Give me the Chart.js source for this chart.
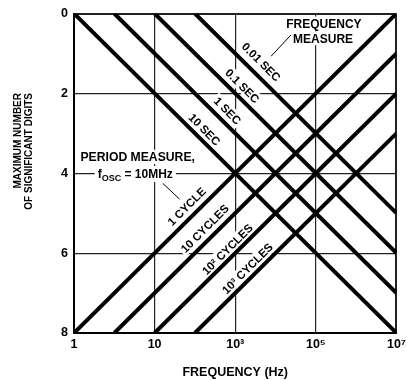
<!DOCTYPE html>
<html>
<head>
<meta charset="utf-8">
<script src="https://cdn.jsdelivr.net/npm/chart.js@4.4.1/dist/chart.umd.min.js"></script>
<style>
  body { margin: 0; background: #fff; }
  canvas { display: block; }
</style>
</head>
<body>
<canvas id="digitsChart" width="410" height="380"></canvas>
<script>
// --- Datos del gráfico ---
const FONT = "'Liberation Sans', Arial, sans-serif";
const F_MAX = 1e7;

// Medida de frecuencia: recta que sale de 0 dígitos y llega a 10^7 Hz
const freqLineLabels = ['10 SEC', '1 SEC', '0.1 SEC', '0.01 SEC'];
const freqLineStart = [0.1, 1, 10, 100];   // Hz donde vale 0 dígitos
const freqLineEnd = [8, 7, 6, 5];          // dígitos en 10^7 Hz

// Medida de periodo: recta que sale de 8 dígitos y llega a 10^7 Hz
const periodLineLabels = ['1 CYCLE', '10 CYCLES', '10² CYCLES', '10³ CYCLES'];
const periodLineStart = [0.1, 1, 10, 100]; // Hz donde vale 8 dígitos
const periodLineEnd = [0, 1, 2, 3];        // dígitos en 10^7 Hz

const xTickValues = [0.1, 10, 1e3, 1e5, 1e7];
const xTickLabels = ['1', '10', '10³', '10⁵', '10⁷'];
const yTickValues = [0, 2, 4, 6, 8];

// --- Posición de las etiquetas (log10 f, dígitos) ---
const lineLabelSpots = [
    { text: '0.01 SEC', lf: 3.65, d: 1.21, rot: 1 },
    { text: '0.1 SEC', lf: 3.18, d: 1.81, rot: 1 },
    { text: '1 SEC', lf: 2.81, d: 2.43, rot: 1 },
    { text: '10 SEC', lf: 2.24, d: 2.9, rot: 1 },
    { text: '1 CYCLE', lf: 1.79, d: 4.83, rot: -1 },
    { text: '10 CYCLES', lf: 2.24, d: 5.38, rot: -1 },
    { text: '10² CYCLES', lf: 2.8, d: 5.9, rot: -1 },
    { text: '10³ CYCLES', lf: 3.3, d: 6.38, rot: -1 }
];

// 1. Construir datasets
function buildDatasets() {
    const sets = [];
    freqLineLabels.forEach((label, i) => {
        sets.push({
            label: label,
            data: [{ x: freqLineStart[i], y: 0 }, { x: F_MAX, y: freqLineEnd[i] }]
        });
    });
    periodLineLabels.forEach((label, i) => {
        sets.push({
            label: label,
            data: [{ x: periodLineStart[i], y: 8 }, { x: F_MAX, y: periodLineEnd[i] }]
        });
    });
    return sets.map(s => Object.assign(s, {
        borderColor: '#000',
        borderWidth: 4,
        pointRadius: 0,
        fill: false,
        tension: 0
    }));
}

// 2. Texto con fondo blanco (tapa la rejilla)
function boxText(ctx, text, cx, cy, rot, size) {
    ctx.save();
    ctx.translate(cx, cy);
    ctx.rotate(rot * Math.PI / 4);
    ctx.font = 'bold ' + size + 'px ' + FONT;
    const w = ctx.measureText(text).width;
    ctx.fillStyle = '#fff';
    ctx.fillRect(-w / 2 - 2, -size / 2 - 1, w + 4, size + 2);
    ctx.fillStyle = '#000';
    ctx.textAlign = 'center';
    ctx.textBaseline = 'middle';
    ctx.fillText(text, 0, 1);
    ctx.restore();
}

function leader(ctx, x1, y1, x2, y2) {
    ctx.save();
    ctx.strokeStyle = '#000';
    ctx.lineWidth = 1;
    ctx.beginPath();
    ctx.moveTo(x1, y1);
    ctx.lineTo(x2, y2);
    ctx.stroke();
    ctx.restore();
}

const labelPlugin = {
    id: 'etiquetas',
    beforeDatasetsDraw(chart) {
        const { ctx, scales: { x, y } } = chart;
        const px = lf => x.getPixelForValue(Math.pow(10, lf));
        const py = d => y.getPixelForValue(d);

        lineLabelSpots.forEach(s => boxText(ctx, s.text, px(s.lf), py(s.d), s.rot, 11.5));

        // Medida de frecuencia
        boxText(ctx, 'FREQUENCY', px(5.2), py(0.25), 0, 12);
        boxText(ctx, 'MEASURE', px(5.18), py(0.62), 0, 12);
        leader(ctx, px(4.38), py(0.54), px(3.89), py(1.07));

        // Medida de periodo
        boxText(ctx, 'PERIOD MEASURE,', px(0.58), py(3.59), 0, 12.2);
        const cx = px(0.52), cy = py(4.02);
        ctx.save();
        const big = 'bold 12px ' + FONT, small = 'bold 9px ' + FONT;
        ctx.font = big;
        const wf = ctx.measureText('f').width;
        const wRest = ctx.measureText(' = 10MHz').width;
        ctx.font = small;
        const wSub = ctx.measureText('OSC').width;
        const total = wf + wSub + wRest;
        const x0 = cx - total / 2;
        ctx.fillStyle = '#fff';
        ctx.fillRect(x0 - 3, cy - 8, total + 6, 16);
        ctx.fillStyle = '#000';
        ctx.textBaseline = 'alphabetic';
        ctx.font = big;
        ctx.fillText('f', x0, cy + 4);
        ctx.font = small;
        ctx.fillText('OSC', x0 + wf, cy + 7);
        ctx.font = big;
        ctx.fillText(' = 10MHz', x0 + wf + wSub, cy + 4);
        ctx.restore();
        leader(ctx, px(1.2), py(4.25), px(1.62), py(4.65));
    },
    afterDraw(chart) {
        // Título del eje Y, alineado por arriba como en el original
        const { ctx } = chart;
        ctx.save();
        ctx.fillStyle = '#000';
        ctx.font = 'bold 10px ' + FONT;
        ctx.textAlign = 'right';
        ctx.textBaseline = 'middle';
        [['MAXIMUM NUMBER', 18], ['OF SIGNIFICANT DIGITS', 29]].forEach(([t, xPos]) => {
            ctx.save();
            ctx.translate(xPos, 93);
            ctx.rotate(-Math.PI / 2);
            ctx.fillText(t, 0, 0);
            ctx.restore();
        });
        ctx.restore();
    }
};

// 3. Renderizar gráfico
function renderDigitsChart() {
    const ctx = document.getElementById('digitsChart').getContext('2d');
    const edgeWidth = c => (c.index === 0 || c.index === 4) ? 2 : 1.2;
    new Chart(ctx, {
        type: 'line',
        data: { datasets: buildDatasets() },
        options: {
            responsive: false,
            animation: false,
            devicePixelRatio: 1,
            layout: { padding: { left: 0, right: 12, top: 10, bottom: 0 } },
            plugins: {
                legend: { display: false },
                tooltip: { enabled: false }
            },
            scales: {
                x: {
                    type: 'logarithmic',
                    min: 0.1,
                    max: F_MAX,
                    afterBuildTicks: s => { s.ticks = xTickValues.map(v => ({ value: v })); },
                    afterFit: s => { s.height = 47; },
                    ticks: {
                        autoSkip: false,
                        maxRotation: 0,
                        padding: 4,
                        color: '#000',
                        font: { family: FONT, size: 12.5, weight: 'bold' },
                        callback: (v, i) => xTickLabels[i]
                    },
                    grid: { color: '#222', lineWidth: edgeWidth, drawTicks: false },
                    border: { color: '#000', width: 2 },
                    title: {
                        display: true,
                        text: 'FREQUENCY (Hz)',
                        color: '#000',
                        font: { family: FONT, size: 12.5, weight: 'bold', lineHeight: 1.2 },
                        padding: { top: 0, bottom: 0 }
                    }
                },
                y: {
                    type: 'linear',
                    min: 0,
                    max: 8,
                    reverse: true,
                    afterBuildTicks: s => { s.ticks = yTickValues.map(v => ({ value: v })); },
                    afterFit: s => { s.width = 74; },
                    ticks: {
                        padding: 6,
                        color: '#000',
                        font: { family: FONT, size: 12.5, weight: 'bold' }
                    },
                    grid: { color: '#222', lineWidth: edgeWidth, drawTicks: false },
                    border: { color: '#000', width: 2 }
                }
            }
        },
        plugins: [labelPlugin]
    });
}

// --- Inicialización ---
window.onload = function() {
    renderDigitsChart();
};
</script>
</body>
</html>
